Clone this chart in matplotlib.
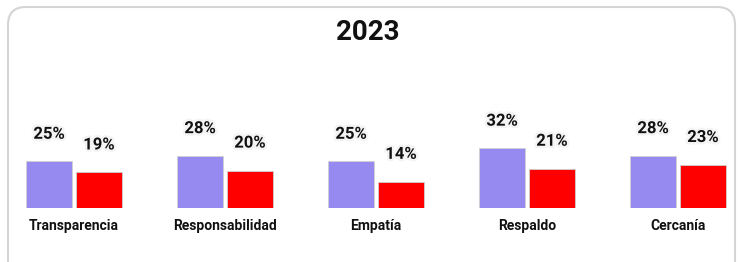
import matplotlib
matplotlib.use("Agg")
import matplotlib.pyplot as plt
import matplotlib.patheffects as pe
from matplotlib.patches import FancyBboxPatch
from matplotlib.transforms import IdentityTransform
import numpy as np

categories = ["Transparencia", "Responsabilidad", "Empatía", "Respaldo", "Cercanía"]
serie_a = [25, 28, 25, 32, 28]
serie_b = [19, 20, 14, 21, 23]
title = "2023"

plt.rcParams['font.family'] = ['Roboto', 'DejaVu Sans']

W, H = 740, 262
fig = plt.figure(figsize=(W / 100, H / 100), dpi=100)

# card background with rounded border (display pixel coords, origin bottom-left)
card = FancyBboxPatch((8, -30), 735 - 8, (H - 7) + 30,
                      boxstyle="round,pad=0,rounding_size=18",
                      transform=IdentityTransform(), facecolor="white",
                      edgecolor="#d4d4d4", linewidth=1.5, zorder=-5)
fig.patches.append(card)

base_px = 54  # baseline from bottom
ax = fig.add_axes([0, base_px / H, 1, 1 - base_px / H])
ax.set_facecolor("none")
ax.set_zorder(2)
px_per_pct = 1.87
ax.set_ylim(0, (H - base_px) / px_per_pct)
ax.set_xlim(-74 / 151, (740 - 74) / 151)

x = np.arange(len(categories))
w = 0.31
off = 0.165
ax.bar(x - off, serie_a, width=w, color="#968af0", edgecolor="#d0d0d0", linewidth=0.6)
ax.bar(x + off, serie_b, width=w, color="#ff0000", edgecolor="#d0d0d0", linewidth=0.6)

halo = [pe.withStroke(linewidth=3.5, foreground="#f4f4f4")]
for xi, a, b in zip(x, serie_a, serie_b):
    ax.annotate(f"{a}%", (xi - off, a), xytext=(0, 27), textcoords="offset pixels",
                ha="center", va="center", fontsize=12, fontweight="bold",
                color="#111111", path_effects=halo)
    ax.annotate(f"{b}%", (xi + off, b), xytext=(0, 27.5), textcoords="offset pixels",
                ha="center", va="center", fontsize=12, fontweight="bold",
                color="#111111", path_effects=halo)

ax.set_xticks(x)
ax.set_xticklabels(categories, fontsize=10, fontweight="bold", color="#111111")
ax.tick_params(axis="x", length=0, pad=8)
ax.set_yticks([])
for s in ax.spines.values():
    s.set_visible(False)

fig.text(368 / W, 1 - 32 / H, title, ha="center", va="center",
         fontsize=20, fontweight="bold", color="#111111", zorder=3)

fig.savefig("out.png", dpi=100)
